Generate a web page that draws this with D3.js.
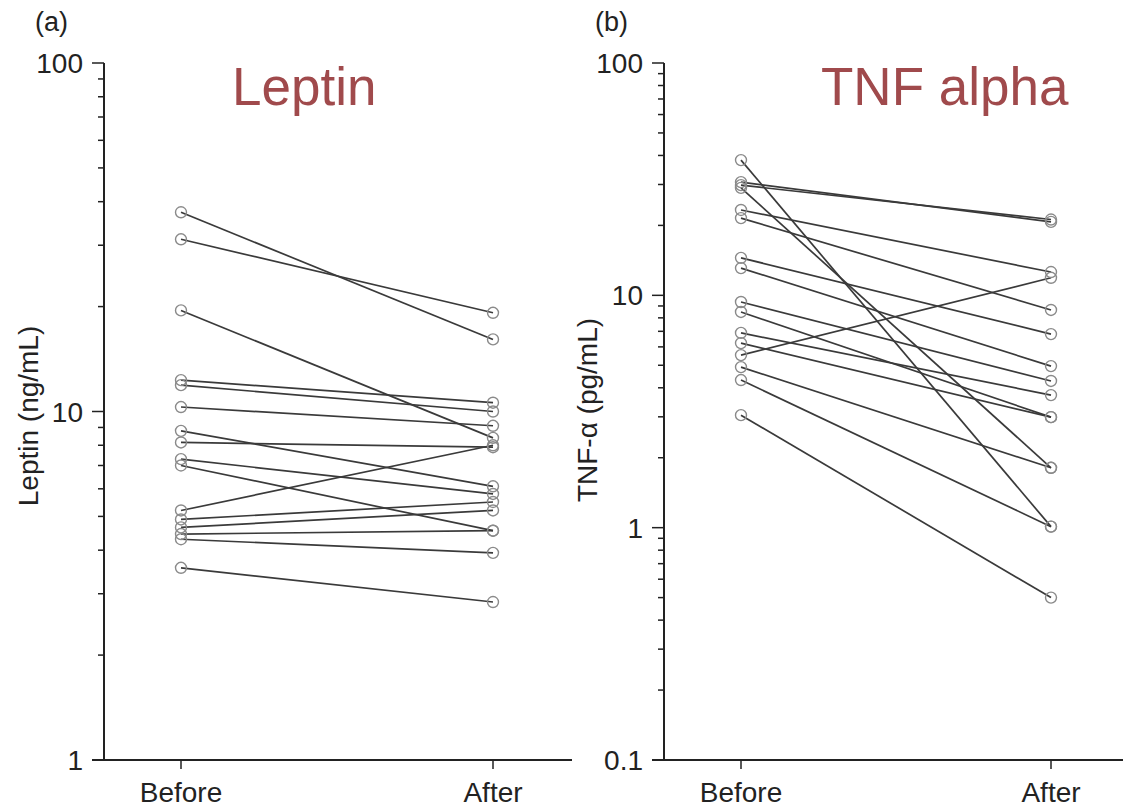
<!DOCTYPE html>
<html>
<head>
<meta charset="utf-8">
<script src="https://cdn.jsdelivr.net/npm/d3@7"></script>
<style>
  body { margin: 0; background: #fff; }
  svg { display: block; font-family: "Liberation Sans", Arial, sans-serif; }
</style>
</head>
<body>
<div id="chart"></div>
<script>
// paired values, one entry per subject
const groups = ["Before", "After"];

const leptinBefore = [37.3, 31.2, 19.5, 12.3, 11.9, 10.3, 8.8, 8.15, 7.3, 7.0, 5.2, 4.9, 4.65, 4.45, 4.3, 3.56];
const leptinAfter  = [16.1, 19.2, 8.4, 10.6, 10.0, 9.1, 6.1, 7.9, 5.8, 4.55, 8.0, 5.5, 5.2, 4.55, 3.93, 2.84];

const tnfBefore = [38.2, 30.7, 29.8, 29.0, 23.3, 21.5, 14.5, 13.1, 9.36, 8.48, 6.89, 6.23, 5.53, 4.91, 4.32, 3.05];
const tnfAfter  = [1.01, 20.7, 21.2, 1.81, 12.6, 8.65, 6.81, 4.96, 4.28, 2.99, 3.72, 2.99, 11.9, 1.81, 1.01, 0.5];

const leptinTicks = [1, 10, 100];
const tnfTicks = [0.1, 1, 10, 100];

const W = 1123, H = 807;
const svg = d3.select("#chart").append("svg")
  .attr("width", W).attr("height", H);

function drawPanel(opts) {
  const g = svg.append("g");
  const y = d3.scaleLog().domain(opts.domain).range([760, 63]);
  const x = d3.scalePoint().domain(groups).range([opts.x0, opts.x1]);

  // minor + major ticks on the log axis
  const minor = [];
  for (let p = Math.log10(opts.domain[0]); p < Math.log10(opts.domain[1]); p++) {
    for (let k = 2; k <= 9; k++) minor.push(k * Math.pow(10, p));
  }
  const ax = g.append("g").attr("transform", `translate(${opts.axisX},0)`);
  ax.selectAll(".minor").data(minor).join("line")
    .attr("x1", -6).attr("x2", 0)
    .attr("y1", d => y(d)).attr("y2", d => y(d))
    .attr("stroke", "#222").attr("stroke-width", 1.5);
  ax.selectAll(".major").data(opts.ticks).join("line")
    .attr("x1", -12).attr("x2", 0)
    .attr("y1", d => y(d)).attr("y2", d => y(d))
    .attr("stroke", "#222").attr("stroke-width", 1.5);
  ax.selectAll("text").data(opts.ticks).join("text")
    .attr("x", -21).attr("y", d => y(d)).attr("dy", "0.36em")
    .attr("text-anchor", "end").attr("font-size", 28).attr("fill", "#222")
    .text(d => d);
  ax.append("line").attr("y1", y(opts.domain[1])).attr("y2", 760)
    .attr("stroke", "#222").attr("stroke-width", 2);

  // bottom axis
  const bx = g.append("g").attr("transform", "translate(0,760)");
  bx.append("line").attr("x1", opts.axisX - 12).attr("x2", opts.xEnd)
    .attr("stroke", "#222").attr("stroke-width", 2);
  bx.selectAll(".tick").data(groups).join("line")
    .attr("x1", d => x(d)).attr("x2", d => x(d)).attr("y1", 0).attr("y2", 9)
    .attr("stroke", "#222").attr("stroke-width", 1.5);
  bx.selectAll("text").data(groups).join("text")
    .attr("x", d => x(d)).attr("y", 42)
    .attr("text-anchor", "middle").attr("font-size", 28).attr("fill", "#222")
    .text(d => d);

  // y title
  g.append("text")
    .attr("transform", `translate(${opts.titleX},${opts.titleY}) rotate(-90)`)
    .attr("text-anchor", "middle").attr("font-size", 28).attr("fill", "#222")
    .text(opts.yTitle);

  // panel letter
  g.append("text").attr("x", opts.letterX).attr("y", 31)
    .attr("font-size", 27).attr("fill", "#222").text(opts.letter);

  // big coloured title
  g.append("text").attr("x", opts.bigX).attr("y", 105)
    .attr("font-size", 53).attr("fill", "#a04a4c").text(opts.bigTitle);

  // paired lines
  const pairs = opts.before.map((b, i) => [b, opts.after[i]]);
  g.append("g").selectAll("line").data(pairs).join("line")
    .attr("x1", x("Before")).attr("x2", x("After"))
    .attr("y1", d => y(d[0])).attr("y2", d => y(d[1]))
    .attr("stroke", "#3a3a3a").attr("stroke-width", 1.7);

  const pts = [];
  pairs.forEach(d => { pts.push(["Before", d[0]]); pts.push(["After", d[1]]); });
  g.append("g").selectAll("circle").data(pts).join("circle")
    .attr("cx", d => x(d[0])).attr("cy", d => y(d[1])).attr("r", 5.5)
    .attr("fill", "none").attr("stroke", "#8a8a8a").attr("stroke-width", 1.4);
}

drawPanel({
  domain: [1, 100], ticks: leptinTicks, axisX: 104, x0: 181, x1: 493, xEnd: 572,
  before: leptinBefore, after: leptinAfter,
  yTitle: "Leptin (ng/mL)", titleX: 38, titleY: 416,
  letter: "(a)", letterX: 35, bigTitle: "Leptin", bigX: 232
});

drawPanel({
  domain: [0.1, 100], ticks: tnfTicks, axisX: 664, x0: 741, x1: 1051, xEnd: 1123,
  before: tnfBefore, after: tnfAfter,
  yTitle: "TNF-\u03b1 (pg/mL)", titleX: 597, titleY: 410,
  letter: "(b)", letterX: 595, bigTitle: "TNF alpha", bigX: 821
});
</script>
</body>
</html>
